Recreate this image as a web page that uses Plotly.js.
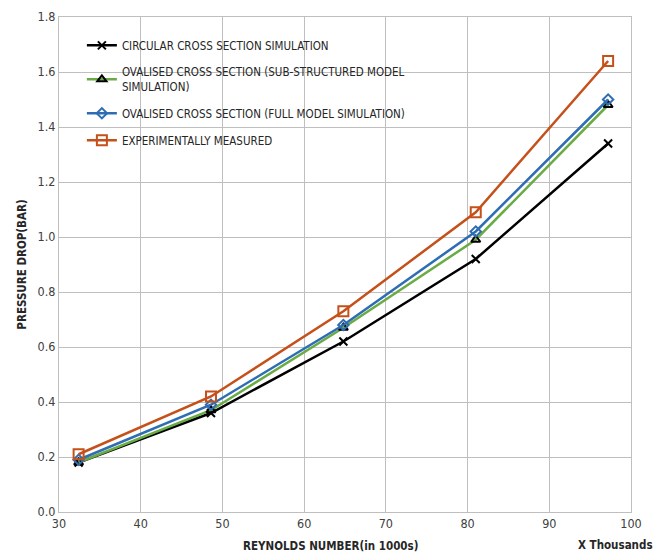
<!DOCTYPE html>
<html>
<head>
<meta charset="utf-8">
<script src="https://cdn.plot.ly/plotly-3.0.1.min.js"></script>
<style>html,body{margin:0;padding:0;background:#fff;}#chart{width:668px;height:555px;}</style>
</head>
<body>
<div id="chart"></div>
<script>
const reynolds = [32.4, 48.6, 64.8, 81.0, 97.2];
const circular = [0.18, 0.36, 0.62, 0.92, 1.34];
const ovalSub = [0.18, 0.37, 0.67, 0.99, 1.48];
const ovalFull = [0.19, 0.39, 0.68, 1.02, 1.50];
const experimental = [0.21, 0.42, 0.73, 1.09, 1.64];
const names = [
  "CIRCULAR CROSS SECTION SIMULATION",
  "OVALISED CROSS SECTION (SUB-STRUCTURED MODEL<br>SIMULATION)",
  "OVALISED CROSS SECTION (FULL MODEL SIMULATION)",
  "EXPERIMENTALLY MEASURED"
];
const FONT = "Liberation Sans Narrow, DejaVu Sans Condensed, Arial Narrow, sans-serif";

const traces = [
  {x: reynolds, y: circular, name: names[0], mode: "lines+markers",
   line: {color: "#000000", width: 2.5},
   marker: {symbol: "x-thin-open", size: 8, line: {color: "#000000", width: 2}}},
  {x: reynolds, y: ovalSub, name: names[1], mode: "lines+markers",
   line: {color: "#6aab45", width: 2.5},
   marker: {symbol: "triangle-up-open", size: 8, color: "#000000", line: {color: "#000000", width: 2}}},
  {x: reynolds, y: ovalFull, name: names[2], mode: "lines+markers",
   line: {color: "#2e6db3", width: 2.5},
   marker: {symbol: "diamond-open", size: 8, color: "#2e6db3", line: {color: "#2e6db3", width: 2}}},
  {x: reynolds, y: experimental, name: names[3], mode: "lines+markers",
   line: {color: "#c5501a", width: 2.5},
   marker: {symbol: "square-open", size: 10, color: "#c5501a", line: {color: "#c5501a", width: 2}}}
];

const layout = {
  width: 668, height: 555,
  margin: {l: 59, r: 37, t: 17, b: 43},
  paper_bgcolor: "#ffffff", plot_bgcolor: "#ffffff",
  font: {family: FONT, size: 12, color: "#404040"},
  showlegend: true,
  legend: {x: 0.04, y: 0.972, xanchor: "left", yanchor: "top",
    bgcolor: "rgba(0,0,0,0)", font: {family: FONT, size: 11.5, color: "#262626"},
    tracegroupgap: 8, itemwidth: 30},
  xaxis: {range: [30, 100], dtick: 10, tick0: 30, showgrid: true, gridcolor: "#bfbfbf", gridwidth: 1,
    showline: true, linecolor: "#bfbfbf", mirror: true, zeroline: false, ticks: "",
    tickfont: {family: FONT, size: 12.5, color: "#404040"},
    title: {text: ""}},
  yaxis: {range: [0, 1.8], dtick: 0.2, tickformat: ".1f", showgrid: true, gridcolor: "#bfbfbf", gridwidth: 1,
    showline: true, linecolor: "#bfbfbf", mirror: true, zeroline: false, ticks: "",
    tickfont: {family: FONT, size: 12.5, color: "#404040"},
    title: {text: "<b>PRESSURE DROP(BAR)</b>", font: {family: FONT, size: 11.5, color: "#262626"}}},
  annotations: [
    {text: "<b>REYNOLDS NUMBER(in 1000s)</b>", xref: "paper", yref: "paper", x: 0.474, y: -0.05,
     xanchor: "center", yanchor: "top", showarrow: false, font: {family: FONT, size: 11.5, color: "#262626"}},
    {text: "<b>X Thousands</b>", xref: "paper", yref: "paper", x: 1.042, y: -0.048,
     xanchor: "right", yanchor: "top", showarrow: false, font: {family: FONT, size: 11.5, color: "#262626"}}]
};
traces.forEach(t => t.legendgroup = t.name);
Plotly.newPlot("chart", traces, layout, {displayModeBar: false});
</script>
</body>
</html>
